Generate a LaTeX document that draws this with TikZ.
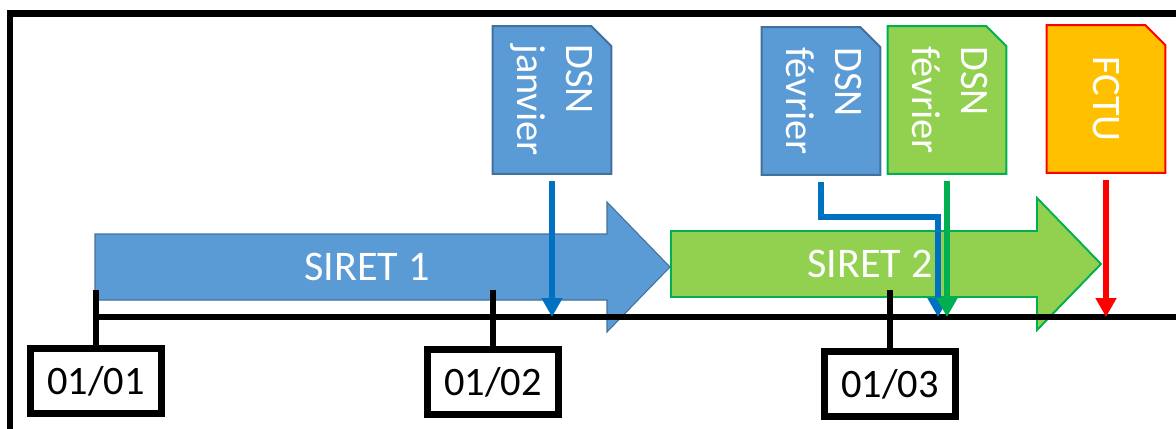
\documentclass[tikz,border=0pt]{standalone}
\usepackage{fontspec}
\setmainfont{Carlito}
\usepackage{graphicx}
\usetikzlibrary{arrows.meta, backgrounds}

\definecolor{siretblue}{HTML}{5B9BD5}
\definecolor{siretblueline}{HTML}{41719C}
\definecolor{siretgreen}{HTML}{92D050}
\definecolor{siretgreenline}{HTML}{00B050}
\definecolor{dsnblue}{HTML}{0070C0}
\definecolor{fctuorange}{HTML}{FFC000}

\begin{document}
\begin{tikzpicture}[x=0.02cm, y=-0.02cm,
  docbox/.style = {rectangle, inner sep=0pt, minimum width=2.36cm,
    minimum height=2.94cm, text=white, font=\fontsize{23}{28}\selectfont},
  datebox/.style = {rectangle, draw, line width=3.7pt, minimum width=2.62cm,
    minimum height=1.3cm, inner sep=0pt, font=\fontsize{23}{28}\selectfont},
  siretlabel/.style = {text=white, font=\fontsize{24}{28}\selectfont},
  timeline/.style = {line width=3.4pt},
  tick/.style = {line width=3.4pt},
  docarrow/.style = {line width=3.1pt, -{Triangle[width=0.4cm, length=0.38cm]},
    shorten <=4pt}]
  \useasboundingbox (0,0) rectangle (1176,429);
  % frame
  \draw[line width=3.7pt] (10,450) -- (10,13.5) -- (1200,13.5);

  % siret arrows
  \filldraw[fill=siretblue, draw=siretblueline, line width=0.6pt]
    (95,234) -- (607,234) -- (607,202) -- (670,267) -- (607,332)
    -- (607,300) -- (95,300) -- cycle;
  \filldraw[fill=siretgreen, draw=siretgreenline, line width=1.1pt]
    (671,231) -- (1037,231) -- (1037,198) -- (1101,264) -- (1037,330)
    -- (1037,297) -- (671,297) -- cycle;
  \node[siretlabel] (s1) at (367,267) {SIRET 1};
  \node[siretlabel] (s2) at (870,264) {SIRET 2};

  % timeline
  \coordinate (t0) at (95,317);
  \coordinate (t1) at (1200,317);
  \draw[timeline] (t0) -- (t1);

  \node[datebox] (dt1) at (96,381) {01/01};
  \node[datebox] (dt2) at (493,382) {01/02};
  \node[datebox] (dt3) at (890,384) {01/03};
  \draw[tick] (dt1.north) -- (dt1.north |- 0,290);
  \draw[tick] (dt2.north) -- (dt2.north |- 0,290);
  \draw[tick] (dt3.north) -- (dt3.north |- 0,290);

  % declarations
  \node[docbox] (jan) at (552,100) {
    \rotatebox{-90}{\begin{tabular}{@{}l@{}} DSN \\ janvier \end{tabular}}};
  \node[docbox] (fev1) at (821,101) {
    \rotatebox{-90}{\begin{tabular}{@{}l@{}} DSN \\ février \end{tabular}}};
  \node[docbox] (fev2) at (947,100) {
    \rotatebox{-90}{\begin{tabular}{@{}l@{}} DSN \\ février \end{tabular}}};
  \node[docbox] (fctu) at (1106,99) {\rotatebox{-90}{FCTU}};

  % cut corner sheets behind the texts
  \begin{scope}[on background layer]
    \foreach \n/\f/\d in {jan/siretblue/siretblueline, fev1/siretblue/siretblueline,
        fev2/siretgreen/siretgreenline, fctu/fctuorange/red}
      \filldraw[fill=\f, draw=\d, line width=1.1pt]
        (\n.south west) -- (\n.north west) -- ([xshift=-0.4cm]\n.north east)
        -- ([yshift=-0.4cm]\n.north east) -- (\n.south east) -- cycle;
  \end{scope}

  \coordinate (bend) at (938,217);
  \draw[docarrow, dsnblue] (jan.south) -- (jan.south |- t0);
  \draw[docarrow, dsnblue] (fev1.south) |- (bend) -- (bend |- t0);
  \draw[docarrow, siretgreenline] (fev2.south) -- (fev2.south |- t0);
  \draw[docarrow, red] (fctu.south) -- (fctu.south |- t0);
\end{tikzpicture}
\end{document}
